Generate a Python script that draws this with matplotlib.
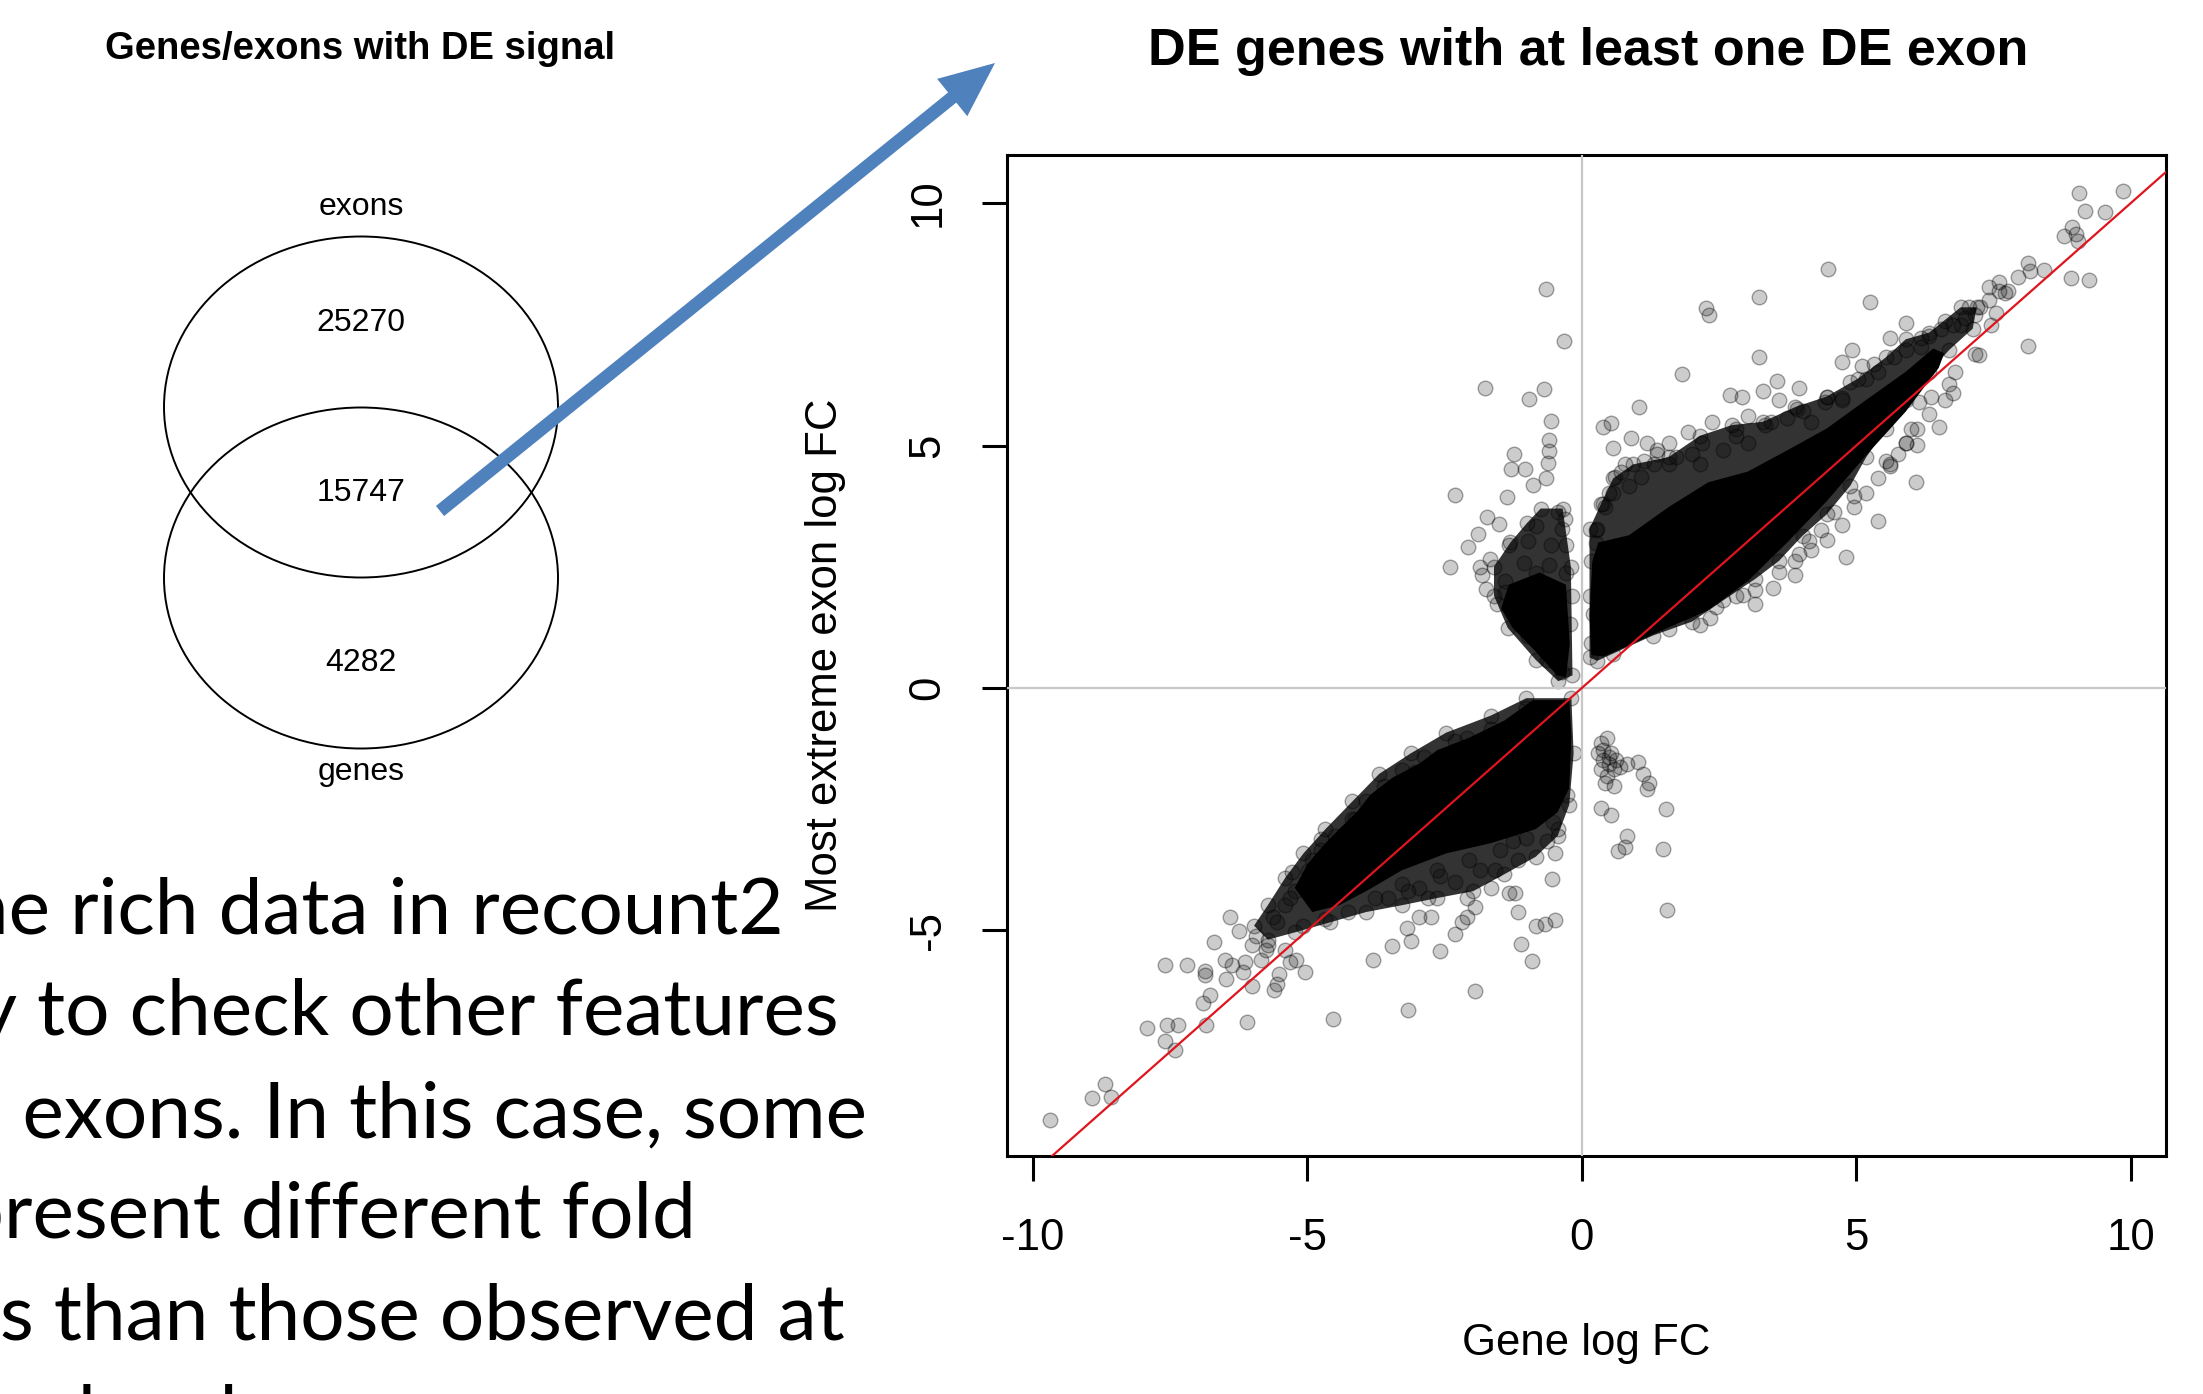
import matplotlib
matplotlib.use('Agg')
import matplotlib.pyplot as plt
from matplotlib.patches import Ellipse

plt.rcParams['axes.unicode_minus'] = False

W, H = 2203, 1394
R_FONT = 'Liberation Sans'
BODY_FONT = 'Lato'

# Venn diagram
venn_title = 'Genes/exons with DE signal'
venn_sets = ['exons', 'genes']
venn_counts = [25270, 15747, 4282]  # exons only, both, genes only

# slide text (cut off at the left / bottom edge of the screenshot)
body_lines = ['Using the rich data in recount2',
              'it is easy to check other features',
              'such as exons. In this case, some',
              'genes present different fold',
              'changes than those observed at',
              'the gene level.']

# scatter: gene log FC vs most extreme exon log FC
q1_x = [9.06, 9.86, 9.17, 9.53, 8.92, 8.78, 9.00, 9.03, 8.91, 9.24, 4.49, 3.23, 2.26, 2.31, 5.25, 8.42, 8.13, 8.16,
        7.95, 7.77, 7.59, 7.41, 7.59, 7.05, 7.16, 6.62, 6.90, 7.55, 7.45, 5.90, 8.13, 7.16, 7.23, 6.80, 6.69, 6.76,
        6.36, 6.15, 5.61, 6.18, 4.92, 4.74, 5.10, 5.32, 3.23, 1.83, 3.56, 3.30, 2.69, 2.91, 3.95, 3.59, 1.04, 0.39,
        0.53, 0.89, 0.57, 1.18, 1.58, 1.36, 2.37, 1.94, 2.19, 2.80, 3.02, 3.34, 3.92, 4.42, 4.74, 6.00, 6.51, 6.11,
        5.90, 5.61, 5.54, 6.08, 5.39, 4.82, 3.88, 3.48, 3.16, 2.94, 2.33, 4.96, 4.60, 4.35, 4.13, 3.95, 0.39, 0.60,
        0.57, 0.78, 1.07, 1.32, 0.25,
        0.42, 0.28, 0.50, 0.71, 0.86, 1.14, 1.36, 1.58, 1.72, 2.01, 2.15, 2.58, 2.80, 3.02, 3.45, 3.74, 4.02, 4.17,
        4.46, 4.74, 4.89, 5.18, 5.39, 5.68, 5.90, 6.18, 6.33, 6.54, 6.76, 6.98, 7.26, 7.41, 7.70,
        1.58, 2.15, 2.44, 2.80, 3.16, 3.59, 3.88, 4.17, 4.46, 4.74, 4.96, 5.18, 5.39, 5.61, 5.75, 5.90, 6.11, 6.33,
        6.62, 0.17, 0.14, 0.17, 0.25, 0.21]
q1_y = [10.21, 10.24, 9.84, 9.82, 9.51, 9.32, 9.36, 9.21, 8.45, 8.42, 8.64, 8.06, 7.83, 7.70, 7.96, 8.62, 8.77, 8.59,
        8.48, 8.18, 8.18, 8.26, 8.37, 7.85, 7.70, 7.56, 7.48, 7.74, 7.48, 7.52, 7.05, 6.89, 6.86, 6.52, 6.27, 6.08,
        6.01, 5.90, 7.22, 7.22, 6.97, 6.72, 6.64, 6.69, 6.83, 6.47, 6.34, 6.12, 6.05, 6.01, 6.19, 5.94, 5.80, 5.38,
        5.46, 5.16, 4.94, 5.05, 5.05, 4.83, 5.49, 5.27, 5.05, 5.35, 5.60, 5.42, 5.75, 5.90, 5.97, 5.35, 5.38, 5.01,
        5.05, 4.57, 4.68, 4.24, 3.45, 2.70, 2.33, 2.07, 1.74, 1.92, 1.44, 3.95, 3.62, 3.25, 3.03, 2.77, 3.80, 4.35,
        4.02, 4.61, 4.35, 4.61, 3.25,
        3.73, 3.28, 4.02, 4.46, 4.17, 4.68, 4.90, 4.61, 4.76, 4.83, 4.61, 4.90, 5.20, 5.05, 5.49, 5.57, 5.71, 5.49,
        6.01, 5.94, 6.30, 6.38, 6.52, 6.82, 6.97, 7.04, 7.26, 7.41, 7.48, 7.63, 7.85, 8.00, 8.15,
        1.22, 1.30, 1.66, 1.89, 2.03, 2.40, 2.62, 2.84, 3.06, 3.36, 3.73, 4.02, 4.32, 4.61, 4.83, 5.05, 5.35, 5.64,
        5.94, 0.93, 1.89, 2.62, 2.99, 1.52]

q2_x = [-0.65, -0.33, -1.76, -0.96, -0.68, -0.57, -0.59, -0.59, -0.61, -0.66, -0.89, -1.23, -1.29, -1.04, -2.31,
        -1.37, -1.72, -1.51, -1.89, -2.07, -2.41, -1.85, -1.68, -0.43, -0.31, -0.36, -0.29, -0.84, -0.98, -1.33,
        -1.82, -1.75, -1.40, -1.54, -0.84, -0.59, -1.40, -1.19, -0.98, -0.63, -0.36, -0.22, -0.17, -0.29, -1.05,
        -0.57]
q2_y = [8.22, 7.15, 6.19, 5.96, 6.17, 5.51, 5.11, 4.89, 4.63, 4.33, 4.19, 4.82, 4.51, 4.51, 3.97, 3.94, 3.53, 3.38,
        3.17, 2.91, 2.50, 2.50, 2.66, 3.62, 3.48, 3.27, 2.95, 3.35, 3.03, 2.95, 2.34, 2.05, 2.21, 1.73, 2.38, 2.54,
        1.97, 1.48, 1.07, 0.58, 0.34, 1.32, 1.89, 2.38, 2.58, 2.95]

q3_x = [-9.69, -8.93, -8.69, -8.58, -7.92, -7.55, -7.35, -7.59, -7.41, -6.84, -6.10, -4.54, -6.90, -6.78, -7.59,
        -7.19, -6.86, -6.86, -6.49, -6.37, -6.13, -6.17, -6.70, -6.41, -6.25, -5.93, -5.72, -5.52, -5.56, -5.60,
        -6.01, -5.32, -5.05, -5.62, -5.27, -5.32, -4.75, -4.91, -4.42, -4.58, -4.14, -3.85, -3.53, -3.24, -3.04,
        -2.80, -3.81, -3.46, -3.12, -2.59, -3.19, -2.96, -2.75, -2.31, -2.10, -2.19, -1.94, -3.16, -2.10, -1.94,
        -1.66, -1.58, -1.86, -1.33, -1.21, -1.17, -1.10, -0.91, -0.84, -0.67, -0.48, -0.54, -0.48, -0.44, -2.31,
        -2.59, -2.80, -2.96, -3.53, -3.16, -2.10, -1.25, -1.17, -0.64, -5.76, -5.84,
        -1.01, -1.66, -2.31, -2.88, -3.28, -3.61, -3.93, -4.18, -4.50, -4.75, -4.99, -5.23, -5.40, -5.56,
        -0.27, -0.52, -1.01, -1.49, -2.06, -2.63, -3.28, -3.77, -4.26, -4.67, -5.07,
        -6.00, -6.50, -5.40, -5.20]
q3_y = [-8.90, -8.46, -8.17, -8.44, -7.02, -6.95, -6.94, -7.28, -7.47, -6.95, -6.88, -6.82, -6.50, -6.34, -5.72,
        -5.72, -5.83, -5.91, -6.00, -5.72, -5.65, -5.86, -5.24, -4.72, -5.01, -5.11, -5.29, -5.90, -6.11, -6.22,
        -6.15, -5.65, -5.86, -4.72, -3.80, -4.33, -3.11, -3.55, -3.52, -3.77, -2.70, -2.49, -2.34, -1.92, -1.74,
        -1.99, -5.61, -5.31, -5.22, -5.43, -4.94, -4.72, -4.72, -5.08, -4.72, -4.83, -6.25, -6.63, -4.33, -4.51,
        -4.12, -3.76, -3.76, -4.23, -4.23, -4.62, -5.27, -5.63, -4.90, -4.87, -4.79, -3.94, -3.41, -2.91, -4.01,
        -3.87, -4.33, -4.12, -4.33, -4.19, -1.04, -3.16, -3.55, -3.16, -5.40, -5.61,
        -0.42, -0.85, -1.10, -1.42, -1.70, -2.02, -2.34, -2.70, -3.05, -3.34, -3.77, -4.19, -4.48, -4.83,
        -2.20, -2.77, -3.09, -3.34, -3.55, -3.76, -4.05, -4.33, -4.62, -4.76, -4.90,
        -5.30, -5.60, -5.40, -5.60]

q4_x = [0.34, 0.46, 0.54, 0.34, 0.46, 0.58, 0.62, 0.82, 1.03, 1.11, 1.23, 1.19, 0.34, 0.54, 0.82, 0.66, 0.78, 1.47,
        1.53, 1.55, 0.38, 0.50, 0.38, 0.58, 0.70, 0.42, 0.50, 0.29]
q4_y = [-1.13, -1.03, -1.35, -1.67, -1.81, -2.02, -1.49, -1.56, -1.53, -1.77, -1.95, -2.09, -2.48, -2.61, -3.05,
        -3.37, -3.27, -3.32, -2.50, -4.58, -1.28, -1.56, -1.49, -1.67, -1.63, -1.95, -1.42, -1.35]

# outer outlines of the crowded parts of the point clouds
q1_halo_x = [0.14, 0.14, 0.35, 0.57, 0.93, 1.58, 2.15, 2.73, 3.30, 3.88, 4.46, 5.03, 5.54, 5.90, 6.33, 6.90, 7.19,
             7.12, 6.69, 6.33, 5.90, 5.54, 5.18, 4.89, 4.46, 4.02, 3.59, 3.16, 2.58, 2.01, 1.29, 0.57, 0.28]
q1_halo_y = [0.63, 3.28, 3.80, 4.32, 4.61, 4.76, 5.20, 5.42, 5.49, 5.79, 6.01, 6.38, 6.82, 7.19, 7.33, 7.85, 7.85,
             7.41, 6.97, 6.52, 5.94, 5.35, 4.76, 4.17, 3.58, 3.14, 2.62, 2.25, 1.81, 1.37, 1.08, 0.71, 0.56]
q2_halo_x = [-0.75, -0.35, -0.20, -0.17, -0.43, -0.84, -1.35, -1.60, -1.60, -1.30, -1.00]
q2_halo_y = [3.70, 3.70, 2.50, 0.26, 0.14, 0.58, 1.24, 1.90, 2.50, 3.00, 3.40]
q3_halo_x = [-0.19, -1.01, -1.66, -2.47, -3.12, -3.69, -4.18, -4.67, -5.07, -5.40, -5.72, -5.97, -5.72, -5.23,
             -4.58, -3.93, -3.28, -2.63, -1.98, -1.41, -0.84, -0.44, -0.23, -0.15]
q3_halo_y = [-0.21, -0.21, -0.57, -0.92, -1.35, -1.77, -2.34, -2.91, -3.41, -3.91, -4.48, -4.90, -5.19, -5.04,
             -4.83, -4.62, -4.48, -4.33, -4.19, -3.84, -3.48, -3.05, -2.41, -1.35]

# outlines of the saturated (solid black) parts
q1_core_x = [0.17, 0.14, 0.19, 0.30, 0.86, 1.58, 2.30, 3.02, 3.74, 4.46, 5.18, 5.90, 6.40, 6.60,
             6.50, 5.90, 5.18, 4.46, 3.74, 3.02, 2.30, 1.58, 0.86, 0.40]
q1_core_y = [0.68, 1.50, 2.60, 3.00, 3.15, 3.73, 4.24, 4.46, 4.90, 5.35, 5.94, 6.52, 7.00, 6.90,
             6.60, 5.70, 4.80, 3.85, 3.00, 2.20, 1.60, 1.25, 0.88, 0.65]
q2_core_x = [-0.77, -0.29, -0.22, -0.29, -0.45, -0.84, -1.26, -1.47, -1.33]
q2_core_y = [2.38, 2.13, 0.91, 0.22, 0.26, 0.75, 1.24, 1.64, 2.13]
q3_core_x = [-0.23, -0.89, -1.41, -2.06, -2.63, -2.96, -3.45, -3.85, -4.10, -4.42, -4.67, -4.99, -5.23, -4.91,
             -4.42, -3.93, -3.28, -2.47, -1.66, -0.84, -0.44, -0.23, -0.19]
q3_core_y = [-0.25, -0.25, -0.67, -1.03, -1.28, -1.56, -1.85, -2.20, -2.56, -2.91, -3.20, -3.62, -4.12, -4.62,
             -4.48, -4.19, -3.76, -3.41, -3.20, -2.91, -2.56, -2.06, -0.99]

fig = plt.figure(figsize=(W / 100, H / 100), dpi=100)

# overlay in pixel coordinates for the slide part
ov = fig.add_axes([0, 0, 1, 1])
ov.set_xlim(0, W)
ov.set_ylim(H, 0)
ov.axis('off')

ov.text(360, 49, venn_title, ha='center', va='center', fontsize=27.5, fontweight='bold', family=R_FONT)
ov.add_patch(Ellipse((361, 407), 394, 341, fill=False, ec='black', lw=1.4))
ov.add_patch(Ellipse((361, 578), 394, 341, fill=False, ec='black', lw=1.4))
ov.text(361, 207, venn_sets[0], ha='center', va='center', fontsize=23, family=R_FONT)
ov.text(361, 772, venn_sets[1], ha='center', va='center', fontsize=23, family=R_FONT)
for yy, c in zip([323, 493, 663], venn_counts):
    ov.text(361, yy, str(c), ha='center', va='center', fontsize=23, family=R_FONT)

ov.arrow(440, 511, 555, -448, width=13, head_width=48, head_length=55,
         length_includes_head=True, color='#4F81BD', lw=0)

# fit body font size to the visible width of one line
fig.canvas.draw()
rend = fig.canvas.get_renderer()
probe = fig.text(0, 0, 's than those observed at', fontsize=60, family=BODY_FONT)
body_fs = 60 * 846 / probe.get_window_extent(rend).width
probe.set_text('level.')
probe.set_fontsize(body_fs)
w_level = probe.get_window_extent(rend).width
probe.remove()

right_ends = [784, 839, 867, 696, 845, 78 + w_level]
baselines = [934, 1035, 1137, 1238, 1340, 1441]
for line, xr, yb in zip(body_lines, right_ends, baselines):
    ov.text(xr, yb, line, ha='right', va='baseline', fontsize=body_fs, family=BODY_FONT, clip_on=False)

# scatter plot
ax = fig.add_axes([1007 / W, 1 - 1156 / H, (2166 - 1007) / W, (1156 - 155) / H])
ax.set_xlim(-10.47, 10.64)
ax.set_ylim(-9.65, 10.99)

halos = [(q1_halo_x, q1_halo_y), (q2_halo_x, q2_halo_y), (q3_halo_x, q3_halo_y)]
for cx, cy in halos:
    ax.fill(cx, cy, color='black', alpha=0.8, lw=0, zorder=2)
for cx, cy in [(q1_core_x, q1_core_y), (q2_core_x, q2_core_y), (q3_core_x, q3_core_y)]:
    ax.fill(cx, cy, color='black', lw=0, zorder=2)

point_sets = [(q1_x, q1_y), (q2_x, q2_y), (q3_x, q3_y), (q4_x, q4_y)] + halos
for xs, ys in point_sets:
    ax.scatter(xs, ys, s=110, facecolor=(0, 0, 0, 0.2), edgecolor=(0, 0, 0, 0.35), linewidths=1.0, zorder=3)

ax.axhline(0, color='#c8c8c8', lw=1.6, zorder=4)
ax.axvline(0, color='#c8c8c8', lw=1.6, zorder=4)
ax.axline((0, 0), slope=1, color='#e0141e', lw=1.6, zorder=5)

for s in ax.spines.values():
    s.set_linewidth(2.2)
ax.set_xticks([-10, -5, 0, 5, 10])
ax.set_yticks([-5, 0, 5, 10])
ax.tick_params(direction='out', length=18, width=2.2, labelsize=31.5, pad=24)
ax.tick_params(axis='x', pad=27)
for t in ax.get_xticklabels() + ax.get_yticklabels():
    t.set_family(R_FONT)
for t in ax.get_yticklabels():
    t.set_rotation(90)
    t.set_va('center')

ax.set_xlabel('Gene log FC', fontsize=31.5, family=R_FONT, va='center')
ax.xaxis.set_label_coords(0.5, (1156 - 1343) / (1156 - 155))
ax.set_ylabel('Most extreme exon log FC', fontsize=31.5, family=R_FONT, va='center')
ax.yaxis.set_label_coords((826 - 1007) / (2166 - 1007), 0.5)

fig.text(1588 / W, 1 - 51 / H, 'DE genes with at least one DE exon', ha='center', va='center',
         fontsize=37.5, fontweight='bold', family=R_FONT)

fig.savefig('out.png', dpi=100)
